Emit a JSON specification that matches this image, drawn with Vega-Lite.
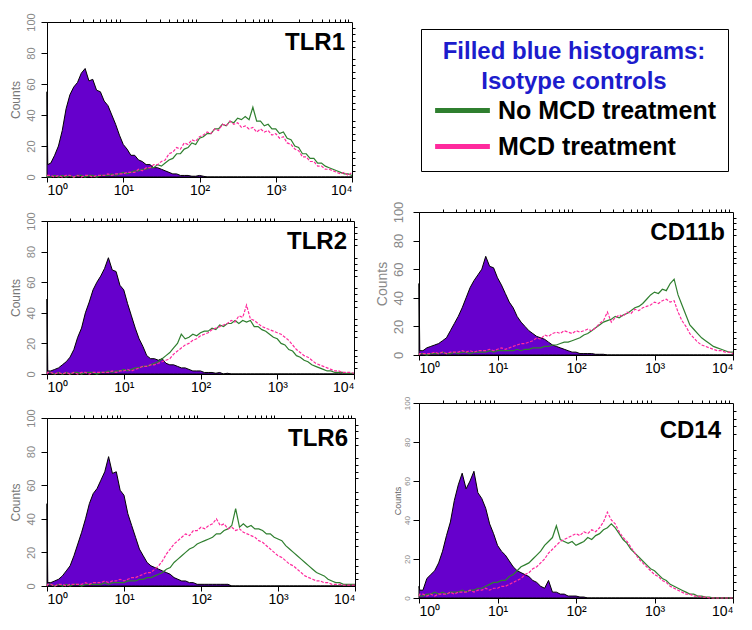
{
"$schema": "https://vega.github.io/schema/vega-lite/v6.json",
"background": "white",
"padding": {"left": 8, "top": 12, "right": 5, "bottom": 5},
"datasets": {
"TLR1": [{"e":0,"i":55,"g":1,"m":1},{"e":0.01,"i":8,"g":0,"m":1},{"e":0.05,"i":9,"g":0,"m":1},{"e":0.1,"i":14,"g":1,"m":0},{"e":0.15,"i":20,"g":0,"m":1},{"e":0.2,"i":30,"g":1,"m":0},{"e":0.25,"i":44,"g":0,"m":1},{"e":0.3,"i":53,"g":1,"m":1},{"e":0.35,"i":58,"g":0,"m":0},{"e":0.4,"i":61,"g":1,"m":1},{"e":0.45,"i":67,"g":1,"m":0},{"e":0.5,"i":70,"g":0,"m":1},{"e":0.55,"i":62,"g":1,"m":1},{"e":0.6,"i":63,"g":1,"m":0},{"e":0.65,"i":56,"g":0,"m":1},{"e":0.7,"i":55,"g":1,"m":1},{"e":0.75,"i":49,"g":1,"m":1},{"e":0.8,"i":46,"g":1,"m":2},{"e":0.85,"i":40,"g":2,"m":1},{"e":0.9,"i":34,"g":1,"m":2},{"e":0.95,"i":27,"g":2,"m":2},{"e":1,"i":21,"g":3,"m":2},{"e":1.05,"i":18,"g":2,"m":3},{"e":1.1,"i":14,"g":3,"m":3},{"e":1.15,"i":14,"g":4,"m":3},{"e":1.2,"i":11,"g":4,"m":5},{"e":1.25,"i":10,"g":5,"m":4},{"e":1.3,"i":8,"g":5,"m":6},{"e":1.35,"i":8,"g":6,"m":6},{"e":1.4,"i":6,"g":6,"m":8},{"e":1.45,"i":6,"g":8,"m":8},{"e":1.5,"i":5,"g":7,"m":10},{"e":1.55,"i":4,"g":9,"m":11},{"e":1.6,"i":3,"g":11,"m":15},{"e":1.65,"i":2,"g":12,"m":16},{"e":1.7,"i":2,"g":15,"m":19},{"e":1.75,"i":1,"g":15,"m":18},{"e":1.8,"i":1,"g":18,"m":22},{"e":1.85,"i":1,"g":19,"m":21},{"e":1.9,"i":0.5,"g":22,"m":24},{"e":1.95,"i":0.5,"g":21,"m":23},{"e":2,"i":1,"g":25,"m":26},{"e":2.05,"i":0.5,"g":26,"m":27},{"e":2.1,"i":0,"g":28,"m":29},{"e":2.15,"i":0,"g":28,"m":28},{"e":2.2,"i":0,"g":31,"m":31},{"e":2.25,"i":0,"g":31,"m":30},{"e":2.3,"i":0,"g":34,"m":34},{"e":2.35,"i":0,"g":33,"m":33},{"e":2.4,"i":0,"g":36,"m":36},{"e":2.45,"i":0,"g":35,"m":34},{"e":2.5,"i":0,"g":38,"m":35},{"e":2.55,"i":0,"g":37,"m":32},{"e":2.6,"i":0,"g":39,"m":33},{"e":2.65,"i":0,"g":37,"m":31},{"e":2.7,"i":0,"g":45,"m":32},{"e":2.75,"i":0,"g":36,"m":29},{"e":2.8,"i":0,"g":36,"m":31},{"e":2.85,"i":0,"g":33,"m":29},{"e":2.9,"i":0,"g":34,"m":30},{"e":2.95,"i":0,"g":31,"m":27},{"e":3,"i":0,"g":31,"m":28},{"e":3.05,"i":0,"g":28,"m":25},{"e":3.1,"i":0,"g":29,"m":26},{"e":3.15,"i":0,"g":25,"m":22},{"e":3.2,"i":0,"g":24,"m":21},{"e":3.25,"i":0,"g":20,"m":18},{"e":3.3,"i":0,"g":19,"m":17},{"e":3.35,"i":0,"g":15,"m":13},{"e":3.4,"i":0,"g":15,"m":13},{"e":3.45,"i":0,"g":12,"m":10},{"e":3.5,"i":0,"g":12,"m":10},{"e":3.55,"i":0,"g":9,"m":7},{"e":3.6,"i":0,"g":9,"m":7},{"e":3.65,"i":0,"g":7,"m":5},{"e":3.7,"i":0,"g":6,"m":5},{"e":3.75,"i":0,"g":5,"m":4},{"e":3.8,"i":0,"g":4,"m":3},{"e":3.85,"i":0,"g":3,"m":2},{"e":3.9,"i":0,"g":2,"m":3},{"e":3.95,"i":0,"g":2,"m":1},{"e":4,"i":0,"g":1,"m":3}],
"TLR2": [{"e":0,"i":49,"g":0,"m":0},{"e":0.01,"i":2,"g":1,"m":1},{"e":0.05,"i":2,"g":1,"m":1},{"e":0.1,"i":3,"g":0,"m":0},{"e":0.15,"i":4,"g":1,"m":1},{"e":0.2,"i":6,"g":0,"m":0},{"e":0.25,"i":8,"g":1,"m":1},{"e":0.3,"i":11,"g":0,"m":0},{"e":0.35,"i":16,"g":1,"m":1},{"e":0.4,"i":24,"g":1,"m":0},{"e":0.45,"i":30,"g":0,"m":1},{"e":0.5,"i":40,"g":1,"m":1},{"e":0.55,"i":47,"g":1,"m":0},{"e":0.6,"i":55,"g":1,"m":1},{"e":0.65,"i":60,"g":0,"m":1},{"e":0.7,"i":64,"g":1,"m":1},{"e":0.75,"i":69,"g":1,"m":1},{"e":0.8,"i":76,"g":2,"m":1},{"e":0.85,"i":68,"g":1,"m":2},{"e":0.9,"i":67,"g":2,"m":1},{"e":0.95,"i":58,"g":2,"m":2},{"e":1,"i":55,"g":3,"m":2},{"e":1.05,"i":46,"g":2,"m":3},{"e":1.1,"i":38,"g":3,"m":2},{"e":1.15,"i":30,"g":4,"m":3},{"e":1.2,"i":23,"g":4,"m":4},{"e":1.25,"i":18,"g":5,"m":5},{"e":1.3,"i":12,"g":5,"m":5},{"e":1.35,"i":10,"g":6,"m":6},{"e":1.4,"i":10,"g":7,"m":6},{"e":1.45,"i":9,"g":8,"m":7},{"e":1.5,"i":10,"g":10,"m":8},{"e":1.55,"i":7,"g":12,"m":9},{"e":1.6,"i":6,"g":14,"m":10},{"e":1.65,"i":6,"g":17,"m":13},{"e":1.7,"i":5,"g":20,"m":15},{"e":1.75,"i":4,"g":26,"m":17},{"e":1.8,"i":4,"g":23,"m":19},{"e":1.85,"i":3,"g":24,"m":20},{"e":1.9,"i":2,"g":26,"m":22},{"e":1.95,"i":2,"g":25,"m":23},{"e":2,"i":2,"g":27,"m":25},{"e":2.05,"i":1,"g":28,"m":26},{"e":2.1,"i":1,"g":28,"m":27},{"e":2.15,"i":1,"g":30,"m":29},{"e":2.2,"i":0.5,"g":29,"m":30},{"e":2.25,"i":1,"g":32,"m":31},{"e":2.3,"i":0,"g":31,"m":32},{"e":2.35,"i":0.5,"g":33,"m":33},{"e":2.4,"i":0,"g":33,"m":35},{"e":2.45,"i":0,"g":35,"m":34},{"e":2.5,"i":0,"g":33,"m":38},{"e":2.55,"i":0,"g":35,"m":37},{"e":2.6,"i":0,"g":34,"m":45},{"e":2.65,"i":0,"g":35,"m":36},{"e":2.7,"i":0,"g":31,"m":35},{"e":2.75,"i":0,"g":31,"m":33},{"e":2.8,"i":0,"g":29,"m":31},{"e":2.85,"i":0,"g":28,"m":30},{"e":2.9,"i":0,"g":26,"m":29},{"e":2.95,"i":0,"g":24,"m":28},{"e":3,"i":0,"g":23,"m":27},{"e":3.05,"i":0,"g":20,"m":26},{"e":3.1,"i":0,"g":19,"m":24},{"e":3.15,"i":0,"g":16,"m":22},{"e":3.2,"i":0,"g":15,"m":19},{"e":3.25,"i":0,"g":12,"m":16},{"e":3.3,"i":0,"g":11,"m":14},{"e":3.35,"i":0,"g":9,"m":12},{"e":3.4,"i":0,"g":8,"m":11},{"e":3.45,"i":0,"g":6,"m":9},{"e":3.5,"i":0,"g":5,"m":7},{"e":3.55,"i":0,"g":4,"m":6},{"e":3.6,"i":0,"g":3,"m":5},{"e":3.65,"i":0,"g":2,"m":4},{"e":3.7,"i":0,"g":2,"m":3},{"e":3.75,"i":0,"g":1,"m":2},{"e":3.8,"i":0,"g":1,"m":2},{"e":3.85,"i":0,"g":1,"m":1},{"e":3.9,"i":0,"g":0.5,"m":1},{"e":3.95,"i":0,"g":0.5,"m":1},{"e":4,"i":0,"g":0.5,"m":0.5}],
"TLR6": [{"e":0,"i":49,"g":0,"m":0},{"e":0.01,"i":2,"g":1,"m":1},{"e":0.05,"i":2,"g":1,"m":1},{"e":0.1,"i":3,"g":0,"m":0},{"e":0.15,"i":4,"g":1,"m":1},{"e":0.2,"i":6,"g":0,"m":1},{"e":0.25,"i":9,"g":1,"m":0},{"e":0.3,"i":12,"g":0,"m":1},{"e":0.35,"i":18,"g":1,"m":1},{"e":0.4,"i":25,"g":1,"m":1},{"e":0.45,"i":32,"g":0,"m":1},{"e":0.5,"i":40,"g":1,"m":2},{"e":0.55,"i":49,"g":1,"m":1},{"e":0.6,"i":55,"g":1,"m":2},{"e":0.65,"i":58,"g":1,"m":2},{"e":0.7,"i":63,"g":1,"m":2},{"e":0.75,"i":68,"g":2,"m":3},{"e":0.8,"i":77,"g":1,"m":2},{"e":0.85,"i":67,"g":2,"m":3},{"e":0.9,"i":68,"g":2,"m":3},{"e":0.95,"i":57,"g":2,"m":4},{"e":1,"i":54,"g":2,"m":3},{"e":1.05,"i":43,"g":3,"m":4},{"e":1.1,"i":36,"g":3,"m":5},{"e":1.15,"i":29,"g":3,"m":5},{"e":1.2,"i":22,"g":4,"m":6},{"e":1.25,"i":18,"g":4,"m":7},{"e":1.3,"i":14,"g":5,"m":8},{"e":1.35,"i":12,"g":5,"m":8},{"e":1.4,"i":11,"g":6,"m":10},{"e":1.45,"i":10,"g":7,"m":12},{"e":1.5,"i":9,"g":8,"m":15},{"e":1.55,"i":8,"g":10,"m":19},{"e":1.6,"i":7,"g":11,"m":22},{"e":1.65,"i":5,"g":14,"m":25},{"e":1.7,"i":4,"g":16,"m":27},{"e":1.75,"i":3,"g":18,"m":29},{"e":1.8,"i":3,"g":20,"m":31},{"e":1.85,"i":2,"g":22,"m":30},{"e":1.9,"i":2,"g":23,"m":33},{"e":1.95,"i":1,"g":25,"m":33},{"e":2,"i":1,"g":26,"m":35},{"e":2.05,"i":1,"g":27,"m":34},{"e":2.1,"i":1,"g":28,"m":36},{"e":2.15,"i":1,"g":29,"m":37},{"e":2.2,"i":1,"g":31,"m":40},{"e":2.25,"i":1,"g":31,"m":36},{"e":2.3,"i":1,"g":33,"m":37},{"e":2.35,"i":1,"g":34,"m":34},{"e":2.4,"i":0,"g":36,"m":35},{"e":2.45,"i":0,"g":46,"m":33},{"e":2.5,"i":0,"g":35,"m":34},{"e":2.55,"i":0,"g":37,"m":32},{"e":2.6,"i":0,"g":35,"m":31},{"e":2.65,"i":0,"g":36,"m":30},{"e":2.7,"i":0,"g":34,"m":29},{"e":2.75,"i":0,"g":34,"m":27},{"e":2.8,"i":0,"g":33,"m":26},{"e":2.85,"i":0,"g":31,"m":24},{"e":2.9,"i":0,"g":31,"m":22},{"e":2.95,"i":0,"g":29,"m":20},{"e":3,"i":0,"g":28,"m":18},{"e":3.05,"i":0,"g":27,"m":17},{"e":3.1,"i":0,"g":24,"m":15},{"e":3.15,"i":0,"g":22,"m":13},{"e":3.2,"i":0,"g":20,"m":12},{"e":3.25,"i":0,"g":18,"m":10},{"e":3.3,"i":0,"g":16,"m":8},{"e":3.35,"i":0,"g":14,"m":6},{"e":3.4,"i":0,"g":12,"m":5},{"e":3.45,"i":0,"g":10,"m":4},{"e":3.5,"i":0,"g":8,"m":3},{"e":3.55,"i":0,"g":7,"m":3},{"e":3.6,"i":0,"g":6,"m":2},{"e":3.65,"i":0,"g":4,"m":2},{"e":3.7,"i":0,"g":3,"m":1},{"e":3.75,"i":0,"g":2,"m":1},{"e":3.8,"i":0,"g":2,"m":1},{"e":3.85,"i":0,"g":1,"m":0.5},{"e":3.9,"i":0,"g":1,"m":0.5},{"e":3.95,"i":0,"g":1,"m":0.5},{"e":4,"i":0,"g":1,"m":0.5}],
"CD11b": [{"e":0,"i":50,"g":0,"m":0},{"e":0.01,"i":3,"g":1,"m":1},{"e":0.05,"i":3,"g":1,"m":1},{"e":0.1,"i":5,"g":0,"m":1},{"e":0.15,"i":6,"g":1,"m":1},{"e":0.2,"i":7,"g":1,"m":2},{"e":0.25,"i":8,"g":1,"m":1},{"e":0.3,"i":10,"g":2,"m":2},{"e":0.35,"i":12,"g":1,"m":1},{"e":0.4,"i":17,"g":1,"m":2},{"e":0.45,"i":22,"g":2,"m":2},{"e":0.5,"i":27,"g":1,"m":2},{"e":0.55,"i":33,"g":2,"m":3},{"e":0.6,"i":40,"g":2,"m":2},{"e":0.65,"i":47,"g":1,"m":3},{"e":0.7,"i":52,"g":2,"m":2},{"e":0.75,"i":56,"g":2,"m":3},{"e":0.8,"i":60,"g":2,"m":3},{"e":0.85,"i":69,"g":2,"m":3},{"e":0.9,"i":62,"g":3,"m":4},{"e":0.95,"i":61,"g":2,"m":3},{"e":1,"i":54,"g":3,"m":4},{"e":1.05,"i":49,"g":3,"m":5},{"e":1.1,"i":43,"g":3,"m":4},{"e":1.15,"i":37,"g":3,"m":5},{"e":1.2,"i":33,"g":3,"m":6},{"e":1.25,"i":27,"g":4,"m":7},{"e":1.3,"i":23,"g":3,"m":8},{"e":1.35,"i":20,"g":4,"m":8},{"e":1.4,"i":17,"g":4,"m":9},{"e":1.45,"i":15,"g":5,"m":10},{"e":1.5,"i":13,"g":5,"m":12},{"e":1.55,"i":12,"g":5,"m":11},{"e":1.6,"i":11,"g":6,"m":14},{"e":1.65,"i":9,"g":6,"m":13},{"e":1.7,"i":7,"g":7,"m":15},{"e":1.75,"i":6,"g":7,"m":16},{"e":1.8,"i":5,"g":8,"m":15},{"e":1.85,"i":4,"g":9,"m":17},{"e":1.9,"i":3,"g":9,"m":16},{"e":1.95,"i":2,"g":10,"m":15},{"e":2,"i":2,"g":11,"m":17},{"e":2.05,"i":1,"g":12,"m":16},{"e":2.1,"i":1,"g":14,"m":17},{"e":2.15,"i":1,"g":15,"m":18},{"e":2.2,"i":1,"g":17,"m":17},{"e":2.25,"i":0.5,"g":19,"m":19},{"e":2.3,"i":0.5,"g":21,"m":22},{"e":2.35,"i":0.5,"g":23,"m":24},{"e":2.4,"i":0,"g":24,"m":30},{"e":2.45,"i":0,"g":25,"m":23},{"e":2.5,"i":0,"g":27,"m":26},{"e":2.55,"i":0,"g":26,"m":28},{"e":2.6,"i":0,"g":28,"m":27},{"e":2.65,"i":0,"g":29,"m":30},{"e":2.7,"i":0,"g":31,"m":29},{"e":2.75,"i":0,"g":33,"m":32},{"e":2.8,"i":0,"g":34,"m":31},{"e":2.85,"i":0,"g":36,"m":33},{"e":2.9,"i":0,"g":39,"m":34},{"e":2.95,"i":0,"g":42,"m":35},{"e":3,"i":0,"g":44,"m":37},{"e":3.05,"i":0,"g":43,"m":36},{"e":3.1,"i":0,"g":46,"m":38},{"e":3.15,"i":0,"g":45,"m":39},{"e":3.2,"i":0,"g":50,"m":37},{"e":3.25,"i":0,"g":53,"m":38},{"e":3.3,"i":0,"g":42,"m":30},{"e":3.35,"i":0,"g":35,"m":24},{"e":3.4,"i":0,"g":28,"m":20},{"e":3.45,"i":0,"g":21,"m":15},{"e":3.5,"i":0,"g":18,"m":12},{"e":3.55,"i":0,"g":15,"m":9},{"e":3.6,"i":0,"g":12,"m":7},{"e":3.65,"i":0,"g":10,"m":6},{"e":3.7,"i":0,"g":8,"m":5},{"e":3.75,"i":0,"g":6,"m":4},{"e":3.8,"i":0,"g":5,"m":3},{"e":3.85,"i":0,"g":4,"m":3},{"e":3.9,"i":0,"g":3,"m":2},{"e":3.95,"i":0,"g":2,"m":2},{"e":4,"i":0,"g":2,"m":1}],
"CD14": [{"e":0,"i":6,"g":2,"m":1},{"e":0.01,"i":4,"g":1,"m":2},{"e":0.05,"i":4,"g":1,"m":2},{"e":0.1,"i":10,"g":2,"m":1},{"e":0.15,"i":12,"g":2,"m":2},{"e":0.2,"i":14,"g":3,"m":1},{"e":0.25,"i":18,"g":2,"m":2},{"e":0.3,"i":24,"g":3,"m":2},{"e":0.35,"i":32,"g":2,"m":2},{"e":0.4,"i":39,"g":3,"m":3},{"e":0.45,"i":50,"g":3,"m":2},{"e":0.5,"i":58,"g":3,"m":3},{"e":0.55,"i":64,"g":4,"m":3},{"e":0.6,"i":56,"g":3,"m":3},{"e":0.65,"i":60,"g":4,"m":4},{"e":0.7,"i":65,"g":4,"m":3},{"e":0.75,"i":54,"g":5,"m":4},{"e":0.8,"i":51,"g":5,"m":4},{"e":0.85,"i":46,"g":6,"m":5},{"e":0.9,"i":38,"g":7,"m":4},{"e":0.95,"i":33,"g":8,"m":5},{"e":1,"i":27,"g":8,"m":5},{"e":1.05,"i":24,"g":9,"m":6},{"e":1.1,"i":22,"g":9,"m":6},{"e":1.15,"i":19,"g":11,"m":7},{"e":1.2,"i":16,"g":12,"m":8},{"e":1.25,"i":14,"g":14,"m":9},{"e":1.3,"i":13,"g":16,"m":10},{"e":1.35,"i":12,"g":17,"m":12},{"e":1.4,"i":11,"g":18,"m":13},{"e":1.45,"i":9,"g":20,"m":15},{"e":1.5,"i":8,"g":22,"m":16},{"e":1.55,"i":6,"g":24,"m":18},{"e":1.6,"i":5,"g":27,"m":20},{"e":1.65,"i":9,"g":29,"m":23},{"e":1.7,"i":3,"g":31,"m":25},{"e":1.75,"i":3,"g":37,"m":27},{"e":1.8,"i":2,"g":30,"m":29},{"e":1.85,"i":2,"g":29,"m":30},{"e":1.9,"i":1,"g":28,"m":31},{"e":1.95,"i":1,"g":29,"m":32},{"e":2,"i":1,"g":27,"m":33},{"e":2.05,"i":0.5,"g":28,"m":32},{"e":2.1,"i":0.5,"g":29,"m":34},{"e":2.15,"i":0,"g":31,"m":33},{"e":2.2,"i":0,"g":30,"m":35},{"e":2.25,"i":0,"g":32,"m":34},{"e":2.3,"i":0,"g":33,"m":36},{"e":2.35,"i":0,"g":35,"m":39},{"e":2.4,"i":0,"g":36,"m":44},{"e":2.45,"i":0,"g":38,"m":40},{"e":2.5,"i":0,"g":36,"m":38},{"e":2.55,"i":0,"g":33,"m":34},{"e":2.6,"i":0,"g":30,"m":31},{"e":2.65,"i":0,"g":28,"m":29},{"e":2.7,"i":0,"g":25,"m":26},{"e":2.75,"i":0,"g":23,"m":23},{"e":2.8,"i":0,"g":21,"m":20},{"e":2.85,"i":0,"g":19,"m":18},{"e":2.9,"i":0,"g":17,"m":16},{"e":2.95,"i":0,"g":15,"m":14},{"e":3,"i":0,"g":14,"m":12},{"e":3.05,"i":0,"g":12,"m":11},{"e":3.1,"i":0,"g":10,"m":9},{"e":3.15,"i":0,"g":9,"m":8},{"e":3.2,"i":0,"g":7,"m":6},{"e":3.25,"i":0,"g":6,"m":5},{"e":3.3,"i":0,"g":5,"m":4},{"e":3.35,"i":0,"g":4,"m":3},{"e":3.4,"i":0,"g":3,"m":2},{"e":3.45,"i":0,"g":2,"m":2},{"e":3.5,"i":0,"g":2,"m":1},{"e":3.55,"i":0,"g":1,"m":1},{"e":3.6,"i":0,"g":1,"m":0.5},{"e":3.65,"i":0,"g":0.5,"m":0.5},{"e":3.7,"i":0,"g":0.5,"m":0},{"e":3.75,"i":0,"g":0,"m":0},{"e":3.8,"i":0,"g":0,"m":0},{"e":3.85,"i":0,"g":0,"m":0},{"e":3.9,"i":0,"g":0,"m":0},{"e":3.95,"i":0,"g":0,"m":0},{"e":4,"i":0,"g":0,"m":0}]
},
"spacing": 15,
"hconcat": [
{"spacing": 13, "vconcat": [
{"width": 305, "height": 155, "data": {"name": "TLR1"}, "resolve": {"axis": {"x": "independent", "y": "independent"}},
 "layer": [
  {"mark": {"type": "area", "fill": "#6600cc", "stroke": "black", "strokeWidth": 1},
   "encoding": {"x": {"field": "e", "type": "quantitative", "scale": {"domain": [0, 4], "nice": false, "zero": false}, "axis": {"values": [0,1,2,3,4], "labelExpr": "'10' + ['⁰','¹','²','³','⁴'][datum.value]", "title": null, "tickSize": 5, "labelFontSize": 14, "labelColor": "black", "labelPadding": 1}},
    "y": {"field": "i", "type": "quantitative", "scale": {"domain": [0, 100], "nice": false}, "axis": {"values": [0,20,40,60,80,100], "title": "Counts", "titleColor": "#777", "titleFontWeight": "normal", "titleFontSize": 12, "labelColor": "#888", "labelFontSize": 11, "labelAngle": 270, "tickSize": 6, "labelPadding": 5, "titlePadding": 3}}}},
  {"transform": [{"fold": ["g", "m"], "as": ["s", "v"]}, {"filter": "datum.s === 'g'"}], "mark": {"type": "line", "strokeWidth": 1.2},
   "encoding": {"x": {"field": "e", "type": "quantitative", "axis": null}, "y": {"field": "v", "type": "quantitative", "axis": null},
    "color": {"field": "s", "type": "nominal", "scale": {"domain": ["g", "m"], "range": ["#2f7f2f", "#ff2a9d"]}, "legend": {"title": ["Filled blue histograms:", "Isotype controls"], "labelExpr": "datum.value === 'g' ? 'No MCD treatment' : 'MCD treatment'"}}}},
  {"transform": [{"fold": ["g", "m"], "as": ["s", "v"]}, {"filter": "datum.s === 'm'"}], "mark": {"type": "line", "strokeWidth": 1.2, "strokeDash": [3, 1.5]},
   "encoding": {"x": {"field": "e", "type": "quantitative", "axis": null}, "y": {"field": "v", "type": "quantitative", "axis": null},
    "color": {"field": "s", "type": "nominal", "scale": {"domain": ["g", "m"], "range": ["#2f7f2f", "#ff2a9d"]}, "legend": {"title": ["Filled blue histograms:", "Isotype controls"], "labelExpr": "datum.value === 'g' ? 'No MCD treatment' : 'MCD treatment'"}}}},
  {"data": {"values": [{"t": "TLR1"}]}, "mark": {"type": "text", "align": "right", "baseline": "top", "dx": -7, "dy": 9, "fontSize": 24, "fontWeight": "bold"},
   "encoding": {"text": {"field": "t"}, "x": {"datum": 4, "type": "quantitative", "axis": {"values": [0.301,0.477,0.602,0.699,0.778,0.845,0.903,0.954,1.301,1.477,1.602,1.699,1.778,1.845,1.903,1.954,2.301,2.477,2.602,2.699,2.778,2.845,2.903,2.954,3.301,3.477,3.602,3.699,3.778,3.845,3.903,3.954], "labels": false, "domain": false, "tickSize": 3, "title": null}},
    "y": {"datum": 100, "type": "quantitative", "axis": {"values": [4,8,12,16,24,28,32,36,44,48,52,56,64,68,72,76,84,88,92,96], "labels": false, "domain": false, "tickSize": 3, "title": null}}}}
 ]},
{"width": 307, "height": 153, "data": {"name": "TLR2"}, "resolve": {"axis": {"x": "independent", "y": "independent"}},
 "layer": [
  {"mark": {"type": "area", "fill": "#6600cc", "stroke": "black", "strokeWidth": 1},
   "encoding": {"x": {"field": "e", "type": "quantitative", "scale": {"domain": [0, 4], "nice": false, "zero": false}, "axis": {"values": [0,1,2,3,4], "labelExpr": "'10' + ['⁰','¹','²','³','⁴'][datum.value]", "title": null, "tickSize": 5, "labelFontSize": 14, "labelColor": "black", "labelPadding": 1}},
    "y": {"field": "i", "type": "quantitative", "scale": {"domain": [0, 100], "nice": false}, "axis": {"values": [0,20,40,60,80,100], "title": "Counts", "titleColor": "#777", "titleFontWeight": "normal", "titleFontSize": 12, "labelColor": "#888", "labelFontSize": 11, "labelAngle": 270, "tickSize": 6, "labelPadding": 5, "titlePadding": 3}}}},
  {"transform": [{"fold": ["g", "m"], "as": ["s", "v"]}, {"filter": "datum.s === 'g'"}], "mark": {"type": "line", "strokeWidth": 1.2},
   "encoding": {"x": {"field": "e", "type": "quantitative", "axis": null}, "y": {"field": "v", "type": "quantitative", "axis": null},
    "color": {"field": "s", "type": "nominal", "scale": {"domain": ["g", "m"], "range": ["#2f7f2f", "#ff2a9d"]}, "legend": {"title": ["Filled blue histograms:", "Isotype controls"], "labelExpr": "datum.value === 'g' ? 'No MCD treatment' : 'MCD treatment'"}}}},
  {"transform": [{"fold": ["g", "m"], "as": ["s", "v"]}, {"filter": "datum.s === 'm'"}], "mark": {"type": "line", "strokeWidth": 1.2, "strokeDash": [3, 1.5]},
   "encoding": {"x": {"field": "e", "type": "quantitative", "axis": null}, "y": {"field": "v", "type": "quantitative", "axis": null},
    "color": {"field": "s", "type": "nominal", "scale": {"domain": ["g", "m"], "range": ["#2f7f2f", "#ff2a9d"]}, "legend": {"title": ["Filled blue histograms:", "Isotype controls"], "labelExpr": "datum.value === 'g' ? 'No MCD treatment' : 'MCD treatment'"}}}},
  {"data": {"values": [{"t": "TLR2"}]}, "mark": {"type": "text", "align": "right", "baseline": "top", "dx": -7, "dy": 9, "fontSize": 24, "fontWeight": "bold"},
   "encoding": {"text": {"field": "t"}, "x": {"datum": 4, "type": "quantitative", "axis": {"values": [0.301,0.477,0.602,0.699,0.778,0.845,0.903,0.954,1.301,1.477,1.602,1.699,1.778,1.845,1.903,1.954,2.301,2.477,2.602,2.699,2.778,2.845,2.903,2.954,3.301,3.477,3.602,3.699,3.778,3.845,3.903,3.954], "labels": false, "domain": false, "tickSize": 3, "title": null}},
    "y": {"datum": 100, "type": "quantitative", "axis": {"values": [4,8,12,16,24,28,32,36,44,48,52,56,64,68,72,76,84,88,92,96], "labels": false, "domain": false, "tickSize": 3, "title": null}}}}
 ]},
{"width": 308, "height": 168, "data": {"name": "TLR6"}, "resolve": {"axis": {"x": "independent", "y": "independent"}},
 "layer": [
  {"mark": {"type": "area", "fill": "#6600cc", "stroke": "black", "strokeWidth": 1},
   "encoding": {"x": {"field": "e", "type": "quantitative", "scale": {"domain": [0, 4], "nice": false, "zero": false}, "axis": {"values": [0,1,2,3,4], "labelExpr": "'10' + ['⁰','¹','²','³','⁴'][datum.value]", "title": null, "tickSize": 5, "labelFontSize": 14, "labelColor": "black", "labelPadding": 1}},
    "y": {"field": "i", "type": "quantitative", "scale": {"domain": [0, 100], "nice": false}, "axis": {"values": [0,20,40,60,80,100], "title": "Counts", "titleColor": "#777", "titleFontWeight": "normal", "titleFontSize": 12, "labelColor": "#888", "labelFontSize": 11, "labelAngle": 270, "tickSize": 6, "labelPadding": 5, "titlePadding": 3}}}},
  {"transform": [{"fold": ["g", "m"], "as": ["s", "v"]}, {"filter": "datum.s === 'g'"}], "mark": {"type": "line", "strokeWidth": 1.2},
   "encoding": {"x": {"field": "e", "type": "quantitative", "axis": null}, "y": {"field": "v", "type": "quantitative", "axis": null},
    "color": {"field": "s", "type": "nominal", "scale": {"domain": ["g", "m"], "range": ["#2f7f2f", "#ff2a9d"]}, "legend": {"title": ["Filled blue histograms:", "Isotype controls"], "labelExpr": "datum.value === 'g' ? 'No MCD treatment' : 'MCD treatment'"}}}},
  {"transform": [{"fold": ["g", "m"], "as": ["s", "v"]}, {"filter": "datum.s === 'm'"}], "mark": {"type": "line", "strokeWidth": 1.2, "strokeDash": [3, 1.5]},
   "encoding": {"x": {"field": "e", "type": "quantitative", "axis": null}, "y": {"field": "v", "type": "quantitative", "axis": null},
    "color": {"field": "s", "type": "nominal", "scale": {"domain": ["g", "m"], "range": ["#2f7f2f", "#ff2a9d"]}, "legend": {"title": ["Filled blue histograms:", "Isotype controls"], "labelExpr": "datum.value === 'g' ? 'No MCD treatment' : 'MCD treatment'"}}}},
  {"data": {"values": [{"t": "TLR6"}]}, "mark": {"type": "text", "align": "right", "baseline": "top", "dx": -7, "dy": 9, "fontSize": 24, "fontWeight": "bold"},
   "encoding": {"text": {"field": "t"}, "x": {"datum": 4, "type": "quantitative", "axis": {"values": [0.301,0.477,0.602,0.699,0.778,0.845,0.903,0.954,1.301,1.477,1.602,1.699,1.778,1.845,1.903,1.954,2.301,2.477,2.602,2.699,2.778,2.845,2.903,2.954,3.301,3.477,3.602,3.699,3.778,3.845,3.903,3.954], "labels": false, "domain": false, "tickSize": 3, "title": null}},
    "y": {"datum": 100, "type": "quantitative", "axis": {"values": [4,8,12,16,24,28,32,36,44,48,52,56,64,68,72,76,84,88,92,96], "labels": false, "domain": false, "tickSize": 3, "title": null}}}}
 ]}
]},
{"spacing": 19, "vconcat": [
{"width": 309, "height": 159, "data": {"values": []}, "mark": "point", "view": {"stroke": null}},
{"width": 314, "height": 143, "data": {"name": "CD11b"}, "resolve": {"axis": {"x": "independent", "y": "independent"}},
 "layer": [
  {"mark": {"type": "area", "fill": "#6600cc", "stroke": "black", "strokeWidth": 1},
   "encoding": {"x": {"field": "e", "type": "quantitative", "scale": {"domain": [0, 4], "nice": false, "zero": false}, "axis": {"values": [0,1,2,3,4], "labelExpr": "'10' + ['⁰','¹','²','³','⁴'][datum.value]", "title": null, "tickSize": 5, "labelFontSize": 14, "labelColor": "black", "labelPadding": 1}},
    "y": {"field": "i", "type": "quantitative", "scale": {"domain": [0, 100], "nice": false}, "axis": {"values": [0,20,40,60,80,100], "title": "Counts", "titleColor": "#888", "titleFontWeight": "normal", "titleFontSize": 14, "labelColor": "#888", "labelFontSize": 13, "labelAngle": 270, "tickSize": 6, "labelPadding": 8, "titlePadding": 3}}}},
  {"transform": [{"fold": ["g", "m"], "as": ["s", "v"]}, {"filter": "datum.s === 'g'"}], "mark": {"type": "line", "strokeWidth": 1.2},
   "encoding": {"x": {"field": "e", "type": "quantitative", "axis": null}, "y": {"field": "v", "type": "quantitative", "axis": null},
    "color": {"field": "s", "type": "nominal", "scale": {"domain": ["g", "m"], "range": ["#2f7f2f", "#ff2a9d"]}, "legend": {"title": ["Filled blue histograms:", "Isotype controls"], "labelExpr": "datum.value === 'g' ? 'No MCD treatment' : 'MCD treatment'"}}}},
  {"transform": [{"fold": ["g", "m"], "as": ["s", "v"]}, {"filter": "datum.s === 'm'"}], "mark": {"type": "line", "strokeWidth": 1.2, "strokeDash": [3, 1.5]},
   "encoding": {"x": {"field": "e", "type": "quantitative", "axis": null}, "y": {"field": "v", "type": "quantitative", "axis": null},
    "color": {"field": "s", "type": "nominal", "scale": {"domain": ["g", "m"], "range": ["#2f7f2f", "#ff2a9d"]}, "legend": {"title": ["Filled blue histograms:", "Isotype controls"], "labelExpr": "datum.value === 'g' ? 'No MCD treatment' : 'MCD treatment'"}}}},
  {"data": {"values": [{"t": "CD11b"}]}, "mark": {"type": "text", "align": "right", "baseline": "top", "dx": -8, "dy": 9, "fontSize": 24, "fontWeight": "bold"},
   "encoding": {"text": {"field": "t"}, "x": {"datum": 4, "type": "quantitative", "axis": {"values": [0.301,0.477,0.602,0.699,0.778,0.845,0.903,0.954,1.301,1.477,1.602,1.699,1.778,1.845,1.903,1.954,2.301,2.477,2.602,2.699,2.778,2.845,2.903,2.954,3.301,3.477,3.602,3.699,3.778,3.845,3.903,3.954], "labels": false, "domain": false, "tickSize": 3, "title": null}},
    "y": {"datum": 100, "type": "quantitative", "axis": {"values": [4,8,12,16,24,28,32,36,44,48,52,56,64,68,72,76,84,88,92,96], "labels": false, "domain": false, "tickSize": 3, "title": null}}}}
 ]},
{"width": 314, "height": 195, "data": {"name": "CD14"}, "resolve": {"axis": {"x": "independent", "y": "independent"}},
 "layer": [
  {"mark": {"type": "area", "fill": "#6600cc", "stroke": "black", "strokeWidth": 1},
   "encoding": {"x": {"field": "e", "type": "quantitative", "scale": {"domain": [0, 4], "nice": false, "zero": false}, "axis": {"values": [0,1,2,3,4], "labelExpr": "'10' + ['⁰','¹','²','³','⁴'][datum.value]", "title": null, "tickSize": 5, "labelFontSize": 14, "labelColor": "black", "labelPadding": 1}},
    "y": {"field": "i", "type": "quantitative", "scale": {"domain": [0, 100], "nice": false}, "axis": {"values": [0,20,40,60,80,100], "title": "Counts", "titleColor": "#666", "titleFontWeight": "normal", "titleFontSize": 9, "labelColor": "#888", "labelFontSize": 8, "labelAngle": 270, "tickSize": 6, "labelPadding": 2, "titlePadding": 1}}}},
  {"transform": [{"fold": ["g", "m"], "as": ["s", "v"]}, {"filter": "datum.s === 'g'"}], "mark": {"type": "line", "strokeWidth": 1.2},
   "encoding": {"x": {"field": "e", "type": "quantitative", "axis": null}, "y": {"field": "v", "type": "quantitative", "axis": null},
    "color": {"field": "s", "type": "nominal", "scale": {"domain": ["g", "m"], "range": ["#2f7f2f", "#ff2a9d"]}, "legend": {"title": ["Filled blue histograms:", "Isotype controls"], "labelExpr": "datum.value === 'g' ? 'No MCD treatment' : 'MCD treatment'"}}}},
  {"transform": [{"fold": ["g", "m"], "as": ["s", "v"]}, {"filter": "datum.s === 'm'"}], "mark": {"type": "line", "strokeWidth": 1.2, "strokeDash": [3, 1.5]},
   "encoding": {"x": {"field": "e", "type": "quantitative", "axis": null}, "y": {"field": "v", "type": "quantitative", "axis": null},
    "color": {"field": "s", "type": "nominal", "scale": {"domain": ["g", "m"], "range": ["#2f7f2f", "#ff2a9d"]}, "legend": {"title": ["Filled blue histograms:", "Isotype controls"], "labelExpr": "datum.value === 'g' ? 'No MCD treatment' : 'MCD treatment'"}}}},
  {"data": {"values": [{"t": "CD14"}]}, "mark": {"type": "text", "align": "right", "baseline": "top", "dx": -12, "dy": 16, "fontSize": 24, "fontWeight": "bold"},
   "encoding": {"text": {"field": "t"}, "x": {"datum": 4, "type": "quantitative", "axis": {"values": [0.301,0.477,0.602,0.699,0.778,0.845,0.903,0.954,1.301,1.477,1.602,1.699,1.778,1.845,1.903,1.954,2.301,2.477,2.602,2.699,2.778,2.845,2.903,2.954,3.301,3.477,3.602,3.699,3.778,3.845,3.903,3.954], "labels": false, "domain": false, "tickSize": 3, "title": null}},
    "y": {"datum": 100, "type": "quantitative", "axis": {"values": [4,8,12,16,24,28,32,36,44,48,52,56,64,68,72,76,84,88,92,96], "labels": false, "domain": false, "tickSize": 3, "title": null}}}}
 ]}
]}
],
"config": {
 "font": "Liberation Sans",
 "view": {"stroke": "black", "strokeWidth": 1},
 "axis": {"grid": false, "domainColor": "black", "tickColor": "black", "labelFont": "Liberation Sans", "titleFont": "Liberation Sans"},
 "legend": {
  "orient": "none", "legendX": 374, "legendY": 7,
  "titleColor": "#1c1ccc", "titleFontSize": 24, "titleFontWeight": "bold", "titleFont": "Liberation Sans", "titleAlign": "center", "titleAnchor": "middle", "titleLineHeight": 30, "titlePadding": 0, "titleLimit": 400,
  "labelFontSize": 25, "labelFontWeight": "bold", "labelFont": "Liberation Sans", "labelColor": "black", "labelOffset": 19, "labelLimit": 400,
  "symbolType": "M-2,0H2", "symbolSize": 750, "symbolStrokeWidth": 5, "symbolOffset": 14, "rowPadding": 6,
  "padding": 11, "strokeColor": "black", "fillColor": "white", "cornerRadius": 0
 }
}
}
